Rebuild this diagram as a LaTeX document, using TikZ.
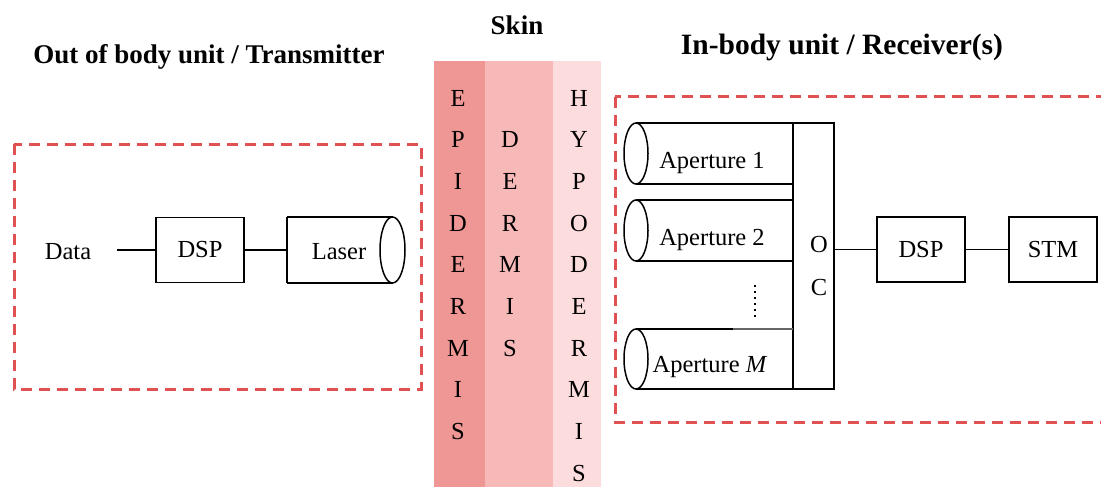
\documentclass[tikz,border=0pt]{standalone}
\usepackage{fontspec}
\setmainfont{Liberation Serif}
\usetikzlibrary{positioning}
\definecolor{epid}{HTML}{EF9794}
\definecolor{derm}{HTML}{F6B9B8}
\definecolor{hypo}{HTML}{FCDCDC}
\definecolor{unitred}{HTML}{E05252}
\begin{document}
\begin{tikzpicture}[x=1pt,y=-1pt,
  every node/.style={font=\fontsize{24.5}{29}\selectfont, inner sep=0pt},
  title/.style={font=\fontsize{27}{32}\selectfont\bfseries},
  unitbox/.style={draw=unitred, line width=3pt, dash pattern=on 11pt off 7pt},
  blockbox/.style={draw, line width=1.5pt, minimum width=88pt, minimum height=65pt},
  wire/.style={line width=1.5pt},
  layer/.style={font=\fontsize{24.5}{29}\selectfont},
]
\useasboundingbox (0,0) rectangle (1101,487);
\clip (0,0) rectangle (1101,487);

% titles
\node[title] (ttx) at (209,57) {Out of body unit / Transmitter};
\node[title] (tskin) at (517,25) {Skin};
\node[title, font=\fontsize{29.5}{34}\selectfont\bfseries] (trx) at (842,47) {In-body unit / Receiver(s)};

% skin layers
\fill[epid] (434,61) rectangle (485,487);
\fill[derm] (485,61) rectangle (553,487);
\fill[hypo] (553,61) rectangle (601,487);
\foreach \ch [count=\i from 0] in {E,P,I,D,E,R,M,I,S}
  \node[layer] (ep\i) at (458,{98+41.7*\i}) {\ch};
\foreach \ch [count=\i from 1] in {D,E,R,M,I,S}
  \node[layer] (de\i) at (510,{98+41.7*\i}) {\ch};
\foreach \ch [count=\i from 0] in {H,Y,P,O,D,E,R,M,I,S}
  \node[layer] (hy\i) at (579,{98+41.7*\i}) {\ch};

% dashed unit outlines
\draw[unitbox] (14,144) rectangle (421,389);
\draw[unitbox] (615,97) rectangle (1130,422);

% transmitter chain
\node (data) at (68,252) {Data};
\coordinate (dataend) at (117,250);
\node[blockbox] (dsptx) at (200,250) {DSP};
\draw[wire] (287,217) -- (392.5,217) (287,283) -- (392.5,283) (287,217) -- (287,283);
\draw[wire] (392.5,250) ellipse [x radius=12.5, y radius=33];
\node (laser) at (339,252) {Laser};
\coordinate (laserin) at (287,250);
\draw[wire] (dataend) -- (dsptx.west);
\draw[wire] (dsptx.east) -- (laserin);

% receiver apertures feeding the optical combiner
\node[draw, line width=1.5pt, minimum width=41pt, minimum height=266pt] (oc) at (813.5,256) {};
\node (oco) at (819,245) {O};
\node (occ) at (819,288) {C};

\draw[wire] (636,123) -- (793,123) (636,184) -- (793,184);
\draw[wire] (636,153.5) ellipse [x radius=12, y radius=30.5];
\node (ap1) at (712,163) {Aperture 1};

\draw[wire] (636,200) -- (793,200) (636,261) -- (793,261);
\draw[wire] (636,230.5) ellipse [x radius=12, y radius=30.5];
\node (ap2) at (712,240) {Aperture 2};

\draw[wire] (636,329) -- (733,329);
\draw[line width=1.2pt, black!60] (733,329) -- (793,329);
\draw[wire] (636,389) -- (793,389);
\draw[wire] (636,359) ellipse [x radius=12, y radius=30];
\node (apm) at (710,367) {Aperture \textit{M}};

\draw[line width=2pt, dash pattern=on 2pt off 4pt] (755,285) -- (755,317);

\node[blockbox] (dsprx) at (921,249.5) {DSP};
\node[blockbox] (stm) at (1053,249.5) {STM};
\draw[wire] (oc.east |- dsprx.west) -- (dsprx.west);
\draw[wire] (dsprx.east) -- (stm.west);
\end{tikzpicture}
\end{document}
